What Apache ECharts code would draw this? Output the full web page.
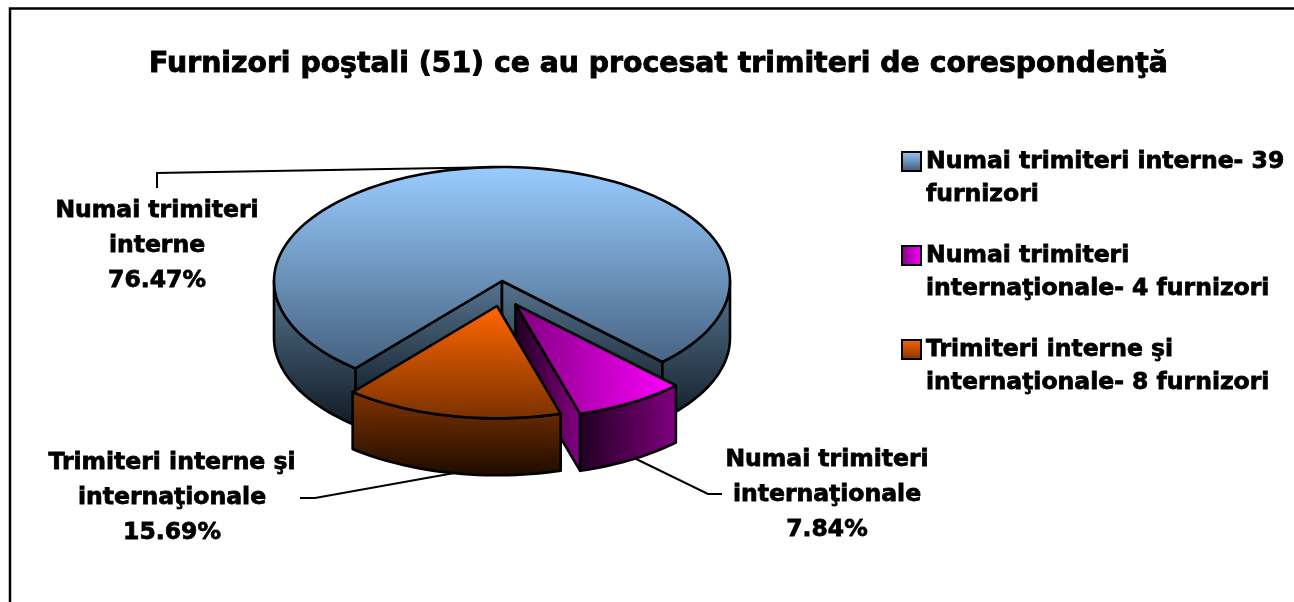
<!DOCTYPE html>
<html><head><meta charset="utf-8">
<style>html,body{margin:0;padding:0;background:#fff}#c{width:1294px;height:602px}</style>
<script src="https://cdn.jsdelivr.net/npm/echarts@6/dist/echarts.min.js"></script>
</head><body><div id="c"></div>
<script>
// ---- data ----
const titleText = 'Furnizori poştali (51) ce au procesat trimiteri de corespondenţă';
const sliceNames = ['Numai trimiteri interne', 'Numai trimiteri internaţionale', 'Trimiteri interne şi internaţionale'];
const sliceValues = [39, 4, 8];
const labelLines = [['Numai trimiteri', 'interne'], ['Numai trimiteri', 'internaţionale'], ['Trimiteri interne şi', 'internaţionale']];
const legendLines = [['Numai trimiteri interne- 39', 'furnizori'], ['Numai trimiteri', 'internaţionale- 4 furnizori'], ['Trimiteri interne şi', 'internaţionale- 8 furnizori']];

// ---- geometry and style of the drawing ----
const FONT = '"DejaVu Sans", sans-serif';
const RX = 228, RY = 114, DEPTH = 57, START_DEG = 130;
const centers = [[502, 281], [515.5, 304.5], [497, 306]];
const radiusScale = [1, 1, 0.985];
const labelAnchors = [[157, 193], [827, 442], [172, 445]];
const leaders = [
  [[157, 188], [157, 173], [502, 167]],
  [[722, 494], [708, 494], [630, 456]],
  [[300, 498], [315, 498], [460, 472]]
];
const LG = echarts.graphic.LinearGradient;
const vert = (y0, y1, a, b) => new LG(0, y0, 0, y1, [{offset: 0, color: a}, {offset: 1, color: b}], true);
const horiz = (x0, x1, a, b) => new LG(x0, 0, x1, 0, [{offset: 0, color: a}, {offset: 1, color: b}], true);
const fills = [
  {top: vert(167, 368, '#99CCFF', '#456180'), wall: vert(281, 432, '#56748F', '#0E1822'), cut: vert(281, 400, '#56748F', '#16222E')},
  {top: horiz(516, 677, '#800080', '#FF00FF'), wall: horiz(578, 677, '#200020', '#800080'), cut: horiz(516, 578, '#200020', '#800080')},
  {top: vert(307, 415, '#FF6600', '#7F3300'), wall: vert(393, 474, '#7F3300', '#200C00'), cut: '#7F3300'}
];
const legendFills = [
  new LG(0, 0, 0, 1, [{offset: 0, color: '#99CCFF'}, {offset: 1, color: '#3F5770'}]),
  new LG(0, 0, 1, 0, [{offset: 0, color: '#800080'}, {offset: 1, color: '#FF00FF'}]),
  new LG(0, 0, 0, 1, [{offset: 0, color: '#FF6600'}, {offset: 1, color: '#803300'}])
];

const total = sliceValues.reduce((a, b) => a + b, 0);
const rad = d => d * Math.PI / 180;

function arcPoints(c, s, from, to, dy) {
  const pts = [], n = Math.max(2, Math.ceil(Math.abs(to - from) / 2));
  for (let i = 0; i <= n; i++) {
    const t = rad(from + (to - from) * i / n);
    pts.push([c[0] + RX * s * Math.cos(t), c[1] + dy + RY * s * Math.sin(t)]);
  }
  return pts;
}
const lineStyle = {stroke: '#000', lineWidth: 2.6, lineJoin: 'round'};
const poly = (points, fill) => ({type: 'polygon', shape: {points}, style: Object.assign({fill}, lineStyle)});

function renderSlice(params, api) {
  const i = params.seriesIndex, c = centers[i], f = fills[i], s = radiusScale[i];
  const before = sliceValues.slice(0, i).reduce((a, b) => a + b, 0);
  const a0 = START_DEG + before / total * 360;
  const a1 = a0 + api.value(0) / total * 360;
  const kids = [];
  // leader line, under the slice
  kids.push({type: 'polyline', shape: {points: leaders[i]}, style: {stroke: '#000', lineWidth: 2, fill: null}});
  // cut faces turned towards the viewer
  const cutFace = d => {
    const e = arcPoints(c, s, d, d, 0)[0];
    kids.push(poly([[c[0], c[1]], [c[0], c[1] + DEPTH], [e[0], e[1] + DEPTH], e], f.cut));
  };
  if (Math.cos(rad(a0)) < 0) cutFace(a0);
  if (Math.cos(rad(a1)) > 0) cutFace(a1);
  // outer wall: the front half of the rim only
  for (let k = 0; k <= 2; k++) {
    const lo = Math.max(a0, k * 360), hi = Math.min(a1, k * 360 + 180);
    if (hi > lo) {
      const topArc = arcPoints(c, s, lo, hi, 0), botArc = arcPoints(c, s, hi, lo, DEPTH);
      kids.push(poly(topArc.concat(botArc), f.wall));
    }
  }
  // top face
  kids.push(poly([c].concat(arcPoints(c, s, a0, a1, 0)), f.top));
  // data label
  const pct = (api.value(0) / total * 100).toFixed(2) + '%';
  kids.push({type: 'text', style: {
    text: labelLines[i].concat(pct).join('\n'), x: labelAnchors[i][0], y: labelAnchors[i][1],
    font: 'bold 23.5px ' + FONT, lineHeight: 35, align: 'center', verticalAlign: 'top', fill: '#000',
    stroke: '#000', lineWidth: 0.8
  }});
  return {type: 'group', children: kids};
}

const chart = echarts.init(document.getElementById('c'), null, {renderer: 'canvas', width: 1294, height: 602});
chart.setOption({
  backgroundColor: '#fff',
  animation: false,
  title: {text: titleText, left: 653.5, top: 46, textAlign: 'center',
    textStyle: {fontFamily: FONT, fontWeight: 'bold', fontSize: 28.3, color: '#000', textBorderColor: '#000', textBorderWidth: 0.9}},
  legend: {
    orient: 'vertical', left: 901, top: 112, padding: 0, itemGap: -5,
    itemWidth: 19, itemHeight: 19, selectedMode: false, icon: 'rect',
    textStyle: {fontFamily: FONT, fontWeight: 'bold', fontSize: 23.5, color: '#000', lineHeight: 33, textBorderColor: '#000', textBorderWidth: 0.8},
    formatter: name => '\n' + legendLines[sliceNames.indexOf(name)].join('\n'),
    data: sliceNames.map((name, i) => ({name, itemStyle: {color: legendFills[i], borderColor: '#000', borderWidth: 2}}))
  },
  graphic: [{type: 'polyline', shape: {points: [[10, 602], [10, 8.5], [1294, 8.5]]},
    style: {stroke: '#000', lineWidth: 2.5, fill: null}, silent: true}],
  series: sliceNames.map((name, i) => ({
    type: 'custom', name, coordinateSystem: 'none', z: i + 2, silent: true,
    renderItem: renderSlice, data: [[sliceValues[i]]],
    itemStyle: {color: legendFills[i]}
  }))
});
</script></body></html>
